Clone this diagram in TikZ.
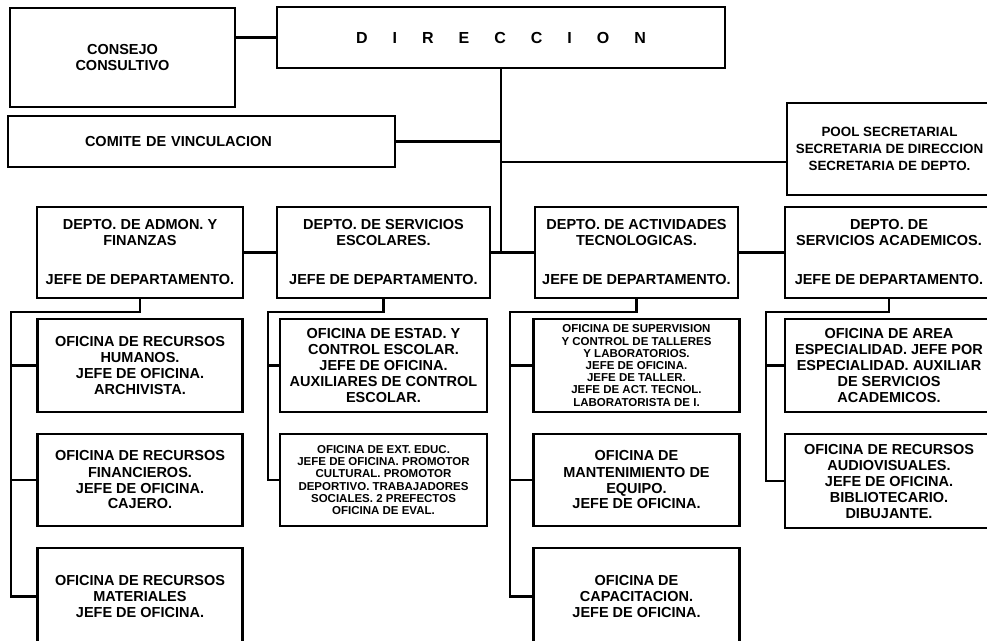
\documentclass[tikz,border=0pt]{standalone}
\usepackage{fontspec}
\setmainfont{Liberation Sans}
\usetikzlibrary{positioning}
\tikzset{
    box/.style={draw,line width=2.2pt,outer sep=0pt,inner sep=2pt,align=center,
        font={\bfseries\fontsize{14.5}{16}\selectfont}},
    tiny box/.style={box,font={\bfseries\fontsize{11.5}{12.2}\selectfont}},
    pool box/.style={box,font={\bfseries\fontsize{13.4}{17}\selectfont}},
    link/.style={line width=2.2pt}
}

\begin{document}
\begin{tikzpicture}[x=1pt,y=-1pt]
    \useasboundingbox (0,0) rectangle (987,640);

    % cabeza
    \node[box,minimum width=448pt,minimum height=61pt,font={\bfseries\fontsize{16}{18}\selectfont}] (direccion) at (501,37.5)
        {D\hspace{25pt}I\hspace{25pt}R\hspace{25pt}E\hspace{25pt}C\hspace{25pt}C\hspace{25pt}I\hspace{25pt}O\hspace{25pt}N};
    \node[box,minimum width=225pt,minimum height=99pt] (consejo) at (122.5,57.5) {CONSEJO\\CONSULTIVO};
    \node[box,minimum width=387pt,minimum height=51pt,text width=377pt,align=left] (comite) at (201.5,141.5)
        {\hspace*{72pt}COMITE DE VINCULACION};
    \node[pool box,minimum width=205pt,minimum height=92pt] (pool) at (889.5,149)
        {POOL SECRETARIAL\\SECRETARIA DE DIRECCION\\SECRETARIA DE DEPTO.};

    % departamentos
    \node[box,minimum width=206pt,minimum height=91pt] (admon) at (140,252.5)
        {DEPTO. DE ADMON. Y\\FINANZAS\\[23pt]JEFE DE DEPARTAMENTO.};
    \node[box,minimum width=213pt,minimum height=91pt,right=34pt of admon] (escolares)
        {DEPTO. DE SERVICIOS\\ESCOLARES.\\[23pt]JEFE DE DEPARTAMENTO.};
    \node[box,minimum width=203pt,minimum height=91pt,right=45pt of escolares] (tecnologicas)
        {DEPTO. DE ACTIVIDADES\\TECNOLOGICAS.\\[23pt]JEFE DE DEPARTAMENTO.};
    \node[box,minimum width=208pt,minimum height=91pt,right=47pt of tecnologicas] (academicos)
        {DEPTO. DE\\SERVICIOS ACADEMICOS.\\[23pt]JEFE DE DEPARTAMENTO.};

    % oficinas
    \node[box,minimum width=205pt,minimum height=93pt,below=21pt of admon] (admon 1)
        {OFICINA DE RECURSOS\\HUMANOS.\\JEFE DE OFICINA.\\ARCHIVISTA.};
    \node[box,minimum width=205pt,minimum height=92pt,below=22pt of admon 1] (admon 2)
        {OFICINA DE RECURSOS\\FINANCIEROS.\\JEFE DE OFICINA.\\CAJERO.};
    \node[box,minimum width=205pt,minimum height=97pt,below=22pt of admon 2] (admon 3)
        {OFICINA DE RECURSOS\\MATERIALES\\JEFE DE OFICINA.};

    \node[box,minimum width=207pt,minimum height=93pt,below=21pt of escolares] (escolares 1)
        {OFICINA DE ESTAD. Y\\CONTROL ESCOLAR.\\JEFE DE OFICINA.\\AUXILIARES DE CONTROL\\ESCOLAR.};
    \node[tiny box,minimum width=207pt,minimum height=92pt,below=22pt of escolares 1] (escolares 2)
        {OFICINA DE EXT. EDUC.\\JEFE DE OFICINA. PROMOTOR\\CULTURAL. PROMOTOR\\DEPORTIVO. TRABAJADORES\\SOCIALES. 2 PREFECTOS\\OFICINA DE EVAL.};

    \node[tiny box,minimum width=206pt,minimum height=93pt,below=21pt of tecnologicas] (tecnologicas 1)
        {OFICINA DE SUPERVISION\\Y CONTROL DE TALLERES\\Y LABORATORIOS.\\JEFE DE OFICINA.\\JEFE DE TALLER.\\JEFE DE ACT. TECNOL.\\LABORATORISTA DE I.};
    \node[box,minimum width=206pt,minimum height=92pt,below=22pt of tecnologicas 1] (tecnologicas 2)
        {OFICINA DE\\MANTENIMIENTO DE\\EQUIPO.\\JEFE DE OFICINA.};
    \node[box,minimum width=206pt,minimum height=97pt,below=22pt of tecnologicas 2] (tecnologicas 3)
        {OFICINA DE\\CAPACITACION.\\JEFE DE OFICINA.};

    \node[box,minimum width=208pt,minimum height=93pt,below=21pt of academicos] (academicos 1)
        {OFICINA DE AREA\\ESPECIALIDAD. JEFE POR\\ESPECIALIDAD. AUXILIAR\\DE SERVICIOS\\ACADEMICOS.};
    \node[box,minimum width=208pt,minimum height=94pt,below=22pt of academicos 1] (academicos 2)
        {OFICINA DE RECURSOS\\AUDIOVISUALES.\\JEFE DE OFICINA.\\BIBLIOTECARIO.\\DIBUJANTE.};

    % lineas
    \coordinate (pool in) at ([yshift=-13pt]pool.west);
    \draw[link] (consejo.east |- direccion.west) -- (direccion.west);
    \draw[link] (direccion.south) -- (direccion.south |- escolares.east);
    \draw[link] (comite.east) -- (comite.east -| direccion.south);
    \draw[link] (pool in) -- (pool in -| direccion.south);
    \draw[link] (admon.east) -- (escolares.west);
    \draw[link] (escolares.east) -- (tecnologicas.west);
    \draw[link] (tecnologicas.east) -- (academicos.west);

    \coordinate (admon bus) at (11,312);
    \coordinate (escolares bus) at (268,312);
    \coordinate (tecnologicas bus) at (510,312);
    \coordinate (academicos bus) at (766,312);

    \draw[link] (admon.south) |- (admon bus) |- (admon 3.west);
    \draw[link] (admon 1.west) -- (admon 1.west -| admon bus);
    \draw[link] (admon 2.west) -- (admon 2.west -| admon bus);

    \draw[link] (escolares.south) |- (escolares bus) |- (escolares 2.west);
    \draw[link] (escolares 1.west) -- (escolares 1.west -| escolares bus);

    \draw[link] (tecnologicas.south) |- (tecnologicas bus) |- (tecnologicas 3.west);
    \draw[link] (tecnologicas 1.west) -- (tecnologicas 1.west -| tecnologicas bus);
    \draw[link] (tecnologicas 2.west) -- (tecnologicas 2.west -| tecnologicas bus);

    \draw[link] (academicos.south) |- (academicos bus) |- (academicos 2.west);
    \draw[link] (academicos 1.west) -- (academicos 1.west -| academicos bus);
\end{tikzpicture}
\end{document}
